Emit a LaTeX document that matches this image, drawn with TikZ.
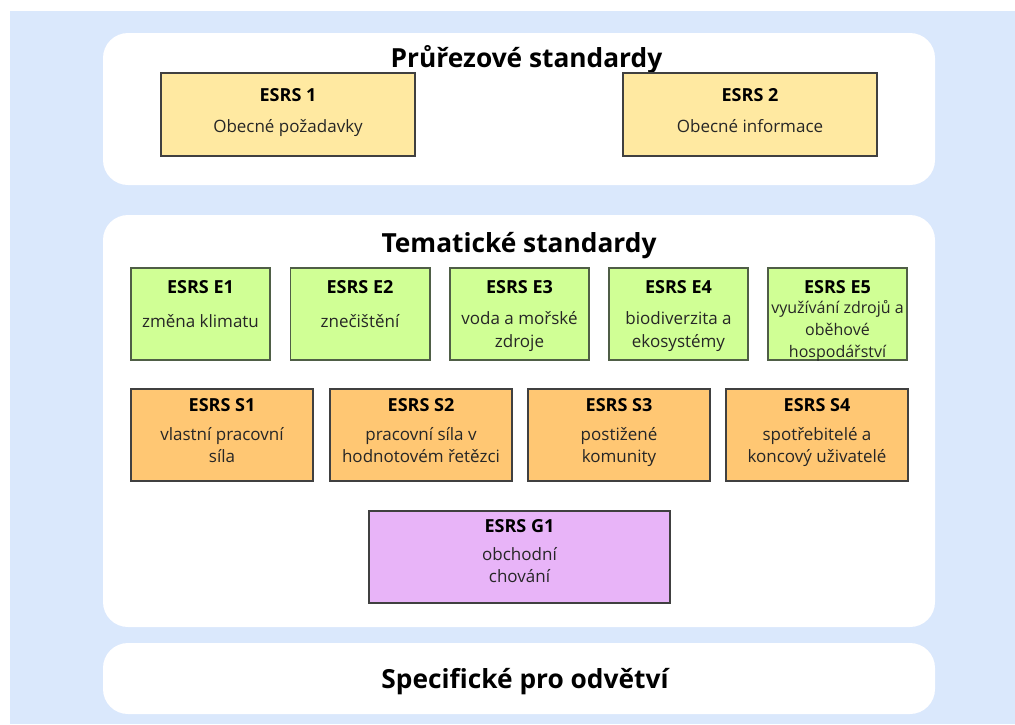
\documentclass[tikz,border=0pt]{standalone}
\usepackage{fontspec}
\setmainfont{Open Sans}
\definecolor{bgblue}{HTML}{DAE8FC}
\definecolor{fyellow}{HTML}{FFE9A1}
\definecolor{fgreen}{HTML}{D0FF95}
\definecolor{forange}{HTML}{FFC773}
\definecolor{fpurple}{HTML}{E8B4F8}
\definecolor{edgegray}{HTML}{404040}
\definecolor{edgegreen}{HTML}{4F5E46}
\tikzset{
  panel/.style={fill=white, draw=none, rounded corners=25pt, inner sep=0pt},
  esbox/.style={draw=edgegray, line width=1.3pt, inner sep=0pt, anchor=center},
  ybox/.style={esbox, fill=fyellow},
  gbox/.style={esbox, fill=fgreen, draw=edgegreen},
  obox/.style={esbox, fill=forange},
  pbox/.style={esbox, fill=fpurple},
  bigtitle/.style={font=\fontsize{26.3}{31}\selectfont\bfseries, anchor=base, inner sep=0pt, text=black},
  boxtitle/.style={font=\fontsize{18}{21}\selectfont\bfseries, anchor=base, inner sep=0pt, text=black},
  boxtext/.style={font=\fontsize{17}{20}\selectfont, anchor=base, inner sep=0pt, text=black!85},
}
\begin{document}
\begin{tikzpicture}[x=1pt,y=-1pt]
\useasboundingbox (0,0) rectangle (1015,724);
\fill[bgblue] (10,11) rectangle (1015,724);
% panels
\node[panel, minimum width=832pt, minimum height=152pt] (ptop) at (519,109) {};
\node[panel, minimum width=832pt, minimum height=412pt] (pmid) at (519,421) {};
\node[panel, minimum width=832pt, minimum height=71pt] (pbot) at (519,678.5) {};
\node[bigtitle] (ttop) at (526.5,67) {Průřezové standardy};
\node[bigtitle] (tmid) at (519,252) {Tematické standardy};
\node[bigtitle] (tbot) at (525,688) {Specifické pro odvětví};
% cross-cutting
\node[ybox, minimum width=254pt, minimum height=83pt] (b1) at (288,114.5) {};
\node[boxtitle] (b1t) at (288,101) {ESRS 1};
\node[boxtext] (b1a) at (288,132) {Obecné požadavky};
\node[ybox, minimum width=254pt, minimum height=83pt] (b2) at (750,114.5) {};
\node[boxtitle] (b2t) at (750,101) {ESRS 2};
\node[boxtext] (b2a) at (750,132) {Obecné informace};
% environment
\node[gbox, minimum width=139pt, minimum height=92pt] (e1) at (200.5,314) {};
\node[boxtitle] (e1t) at (200.5,293) {ESRS E1};
\node[boxtext] (e1a) at (200.5,327) {změna klimatu};
\node[gbox, minimum width=139.6pt, minimum height=92pt] (e2) at (360.3,314) {};
\node[boxtitle] (e2t) at (360,293) {ESRS E2};
\node[boxtext] (e2a) at (360,327) {znečištění};
\node[gbox, minimum width=139pt, minimum height=92pt] (e3) at (519.5,314) {};
\node[boxtitle] (e3t) at (519.5,293) {ESRS E3};
\node[boxtext] (e3a) at (519.5,324) {voda a mořské};
\node[boxtext] (e3b) at (519.5,347) {zdroje};
\node[gbox, minimum width=139pt, minimum height=92pt] (e4) at (678.5,314) {};
\node[boxtitle] (e4t) at (678.5,293) {ESRS E4};
\node[boxtext] (e4a) at (678.5,324) {biodiverzita a};
\node[boxtext] (e4b) at (678.5,347) {ekosystémy};
\node[gbox, minimum width=139pt, minimum height=92pt] (e5) at (837.5,314) {};
\node[boxtitle] (e5t) at (837.5,293) {ESRS E5};
\node[boxtext, font=\fontsize{16}{20}\selectfont] (e5a) at (837.5,313) {využívání zdrojů a};
\node[boxtext, font=\fontsize{16}{20}\selectfont] (e5b) at (837.5,335) {oběhové};
\node[boxtext, font=\fontsize{16}{20}\selectfont] (e5c) at (837.5,357) {hospodářství};
% social
\node[obox, minimum width=182pt, minimum height=92pt] (s1) at (222,435) {};
\node[boxtitle] (s1t) at (222,411) {ESRS S1};
\node[boxtext] (s1a) at (222,440) {vlastní pracovní};
\node[boxtext] (s1b) at (222,462) {síla};
\node[obox, minimum width=182pt, minimum height=92pt] (s2) at (421,435) {};
\node[boxtitle] (s2t) at (421,411) {ESRS S2};
\node[boxtext] (s2a) at (421,440) {pracovní síla v};
\node[boxtext] (s2b) at (421,462) {hodnotovém řetězci};
\node[obox, minimum width=182pt, minimum height=92pt] (s3) at (619,435) {};
\node[boxtitle] (s3t) at (619,411) {ESRS S3};
\node[boxtext] (s3a) at (619,440) {postižené};
\node[boxtext] (s3b) at (619,462) {komunity};
\node[obox, minimum width=182pt, minimum height=92pt] (s4) at (817,435) {};
\node[boxtitle] (s4t) at (817,411) {ESRS S4};
\node[boxtext] (s4a) at (817,440) {spotřebitelé a};
\node[boxtext] (s4b) at (817,462) {koncový uživatelé};
% governance
\node[pbox, minimum width=301pt, minimum height=92pt] (g1) at (519.5,557) {};
\node[boxtitle] (g1t) at (519.5,532) {ESRS G1};
\node[boxtext] (g1a) at (519.5,560) {obchodní};
\node[boxtext] (g1b) at (519.5,582) {chování};
\end{tikzpicture}
\end{document}
